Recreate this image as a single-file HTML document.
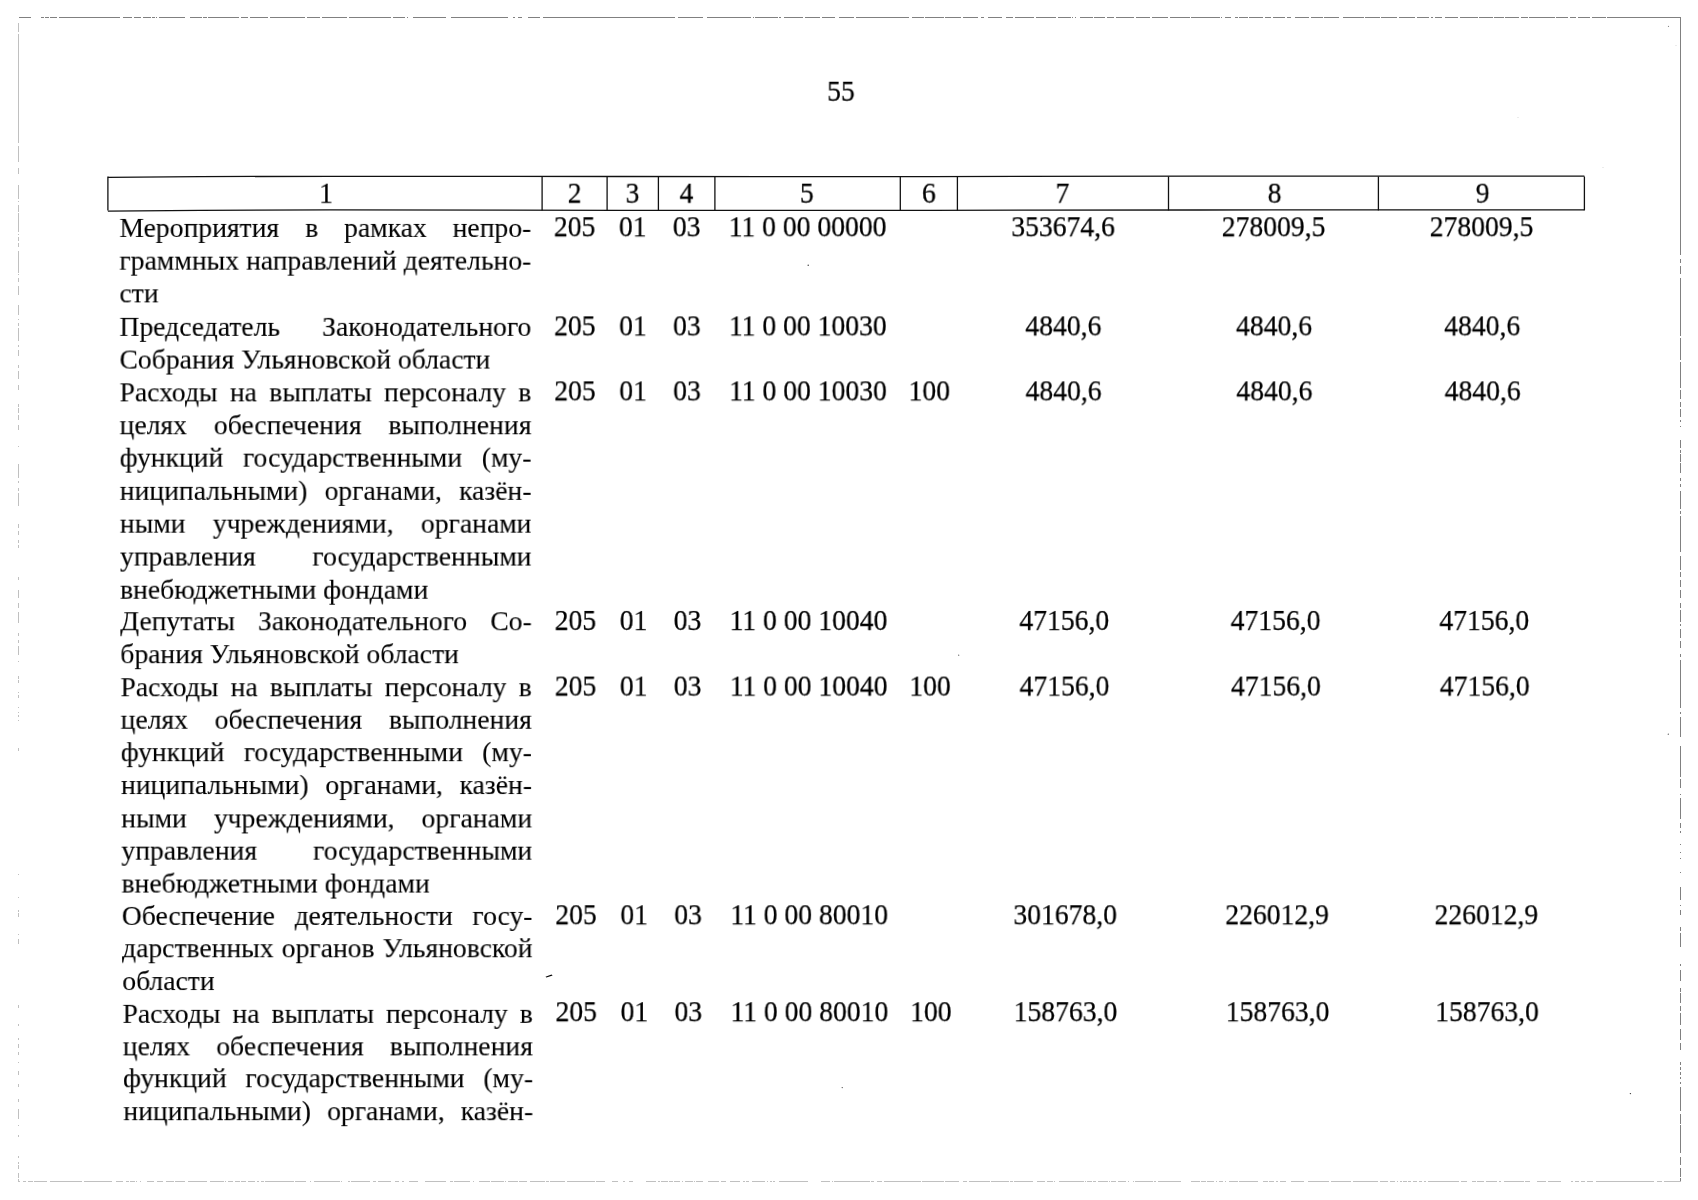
<!DOCTYPE html>
<html lang="ru"><head><meta charset="utf-8"><title>55</title>
<style>
html,body{margin:0;padding:0;background:#fff;}
body{width:1698px;height:1200px;position:relative;overflow:hidden;font-family:"Liberation Serif",serif;color:#000;-webkit-text-stroke:0.25px #000;}
.t,.c{position:absolute;white-space:nowrap;line-height:32px;height:32px;will-change:transform;}
.t{font-size:28.30px;transform-origin:0 0;-webkit-text-stroke:0.1px #000;}
.j{text-align:justify;text-align-last:justify;}
.c{font-size:29.00px;width:400px;text-align:center;transform-origin:50% 0;}
svg{position:absolute;left:0;top:0;}
</style></head><body>

<svg width="1698" height="1200" viewBox="0 0 1698 1200">
<g fill="none" stroke-width="1" shape-rendering="crispEdges">
<path stroke="#808080" d="M18.8 17.5H31.1M40.7 17.5H43.9M45.1 17.5H48.9M49.9 17.5H57.0M59.2 17.5H120.4M122.9 17.5H131.7M133.6 17.5H141.1M143.0 17.5H151.1M151.8 17.5H155.0M156.2 17.5H157.4M158.7 17.5H185.0M190.0 17.5H202.0M203.2 17.5H207.0M208.2 17.5H238.8M241.0 17.5H248.0M250.0 17.5H267.5M270.0 17.5H305.0M307.0 17.5H320.0M322.0 17.5H347.0M349.0 17.5H391.0M393.0 17.5H405.0M406.5 17.5H408.0M413.0 17.5H446.0M451.0 17.5H507.5M512.5 17.5H515.0M517.5 17.5H522.0M527.5 17.5H540.0M542.5 17.5H675.0M677.5 17.5H702.5M707.0 17.5H751.0M753.0 17.5H754.0M755.0 17.5H777.5M779.0 17.5H781.0M784.0 17.5H802.5M804.5 17.5H820.0M822.0 17.5H835.0M839.0 17.5H854.0M856.0 17.5H909.0M912.0 17.5H924.0M925.0 17.5H944.0M945.0 17.5H961.0M962.5 17.5H977.5M981.0 17.5H984.0M987.5 17.5H1002.0M1006.0 17.5H1012.5M1015.0 17.5H1034.0M1036.0 17.5H1056.0M1057.5 17.5H1071.0M1072.0 17.5H1073.0M1074.5 17.5H1076.0M1080.0 17.5H1092.5M1094.0 17.5H1105.0M1107.0 17.5H1114.0M1116.0 17.5H1134.0M1135.5 17.5H1150.0M1152.0 17.5H1168.0M1169.5 17.5H1190.0M1191.0 17.5H1220.0M1220.5 17.5H1221.5M1225.0 17.5H1231.0M1235.0 17.5H1237.5M1239.0 17.5H1247.5M1249.0 17.5H1262.5M1265.0 17.5H1271.0M1273.0 17.5H1285.0M1287.0 17.5H1291.0M1295.0 17.5H1309.0M1311.0 17.5H1322.5M1324.0 17.5H1339.0M1342.5 17.5H1364.0M1365.0 17.5H1379.5M1381.0 17.5H1397.0M1399.0 17.5H1415.0M1417.0 17.5H1429.0M1430.5 17.5H1432.5M1434.5 17.5H1442.0M1445.0 17.5H1457.5M1459.5 17.5H1477.5M1479.0 17.5H1492.5M1494.4 17.5H1503.8M1504.8 17.5H1505.8M1506.3 17.5H1518.9M1521.0 17.5H1528.3M1529.0 17.5H1554.6M1556.3 17.5H1568.4M1570.3 17.5H1576.0M1577.8 17.5H1589.8M1592.3 17.5H1606.0M1607.3 17.5H1680.5"/>
<path stroke="#808080" d="M1680.5 17.4V255.0M1680.5 258.5V263.0M1680.5 265.6V274.0M1680.5 277.5V335.7M1680.5 338.0V360.0M1680.5 362.0V388.0M1680.5 390.0V399.0M1680.5 401.8V407.0M1680.5 409.0V417.0M1680.5 419.5V422.0M1680.5 426.0V427.0M1680.5 440.0V447.5M1680.5 450.0V452.6M1680.5 454.0V461.5M1680.5 463.0V473.0M1680.5 478.0V480.6M1680.5 484.0V487.0M1680.5 490.7V508.5M1680.5 511.0V513.6M1680.5 516.0V552.0M1680.5 555.5V569.5M1680.5 572.0V577.0M1680.5 579.7V587.3M1680.5 590.0V597.5M1680.5 602.6V607.7M1680.5 610.0V621.7M1680.5 624.0V625.5M1680.5 629.0V638.0M1680.5 641.0V648.4M1680.5 653.5V657.3M1680.5 660.0V708.0M1680.5 712.0V713.5M1680.5 717.0V737.0M1680.5 746.0V777.0M1680.5 779.0V788.0M1680.5 794.0V795.0M1680.5 798.0V818.7M1680.5 822.5V827.6M1680.5 831.0V832.5M1680.5 844.0V845.0M1680.5 851.5V852.5M1680.5 858.0V859.0M1680.5 871.5V872.5M1680.5 887.0V900.0M1680.5 905.0V906.0M1680.5 910.0V914.7M1680.5 927.0V930.6M1680.5 933.0V946.6M1680.5 964.0V966.3M1680.5 970.0V981.0M1680.5 988.4V992.0M1680.5 993.3V1003.0M1680.5 1005.6V1010.5M1680.5 1013.0V1025.3M1680.5 1029.0V1040.0M1680.5 1042.5V1050.0M1680.5 1062.0V1064.6M1680.5 1067.0V1069.5M1680.5 1072.0V1074.5M1680.5 1077.0V1079.0M1680.5 1082.0V1084.3M1680.5 1086.7V1111.3M1680.5 1113.8V1123.6M1680.5 1125.0V1153.0M1680.5 1157.0V1165.4M1680.5 1168.0V1176.5M1680.5 1177.7V1181.4"/>
<path stroke="#c0c0c0" d="M18.0 1181.5H20.0M22.5 1181.5H26.0M27.5 1181.5H32.5M34.0 1181.5H47.0M50.0 1181.5H82.0M84.0 1181.5H112.0M116.0 1181.5H123.0M126.0 1181.5H129.0M130.0 1181.5H135.0M136.0 1181.5H137.0M140.0 1181.5H141.0M147.0 1181.5H154.0M157.0 1181.5H162.5M166.0 1181.5H174.0M175.0 1181.5H185.0M188.0 1181.5H207.0M210.0 1181.5H224.0M225.0 1181.5H226.0M227.5 1181.5H232.5M234.5 1181.5H240.0M241.0 1181.5H246.0M247.5 1181.5H255.0M257.0 1181.5H258.5M261.0 1181.5H264.0M265.0 1181.5H272.5M273.0 1181.5H294.0M295.0 1181.5H306.0M309.5 1181.5H310.5M314.0 1181.5H340.0M341.0 1181.5H342.0M347.5 1181.5H350.0M351.0 1181.5H370.0M373.0 1181.5H376.0M377.5 1181.5H391.0M394.5 1181.5H399.0M402.0 1181.5H404.0M409.0 1181.5H418.0M424.5 1181.5H446.0M450.0 1181.5H452.5M454.0 1181.5H470.0M472.5 1181.5H473.5M479.0 1181.5H490.0M491.0 1181.5H504.0M505.0 1181.5H506.0M507.5 1181.5H517.5M519.0 1181.5H527.0M530.0 1181.5H545.0M546.0 1181.5H549.0M550.0 1181.5H565.0M567.0 1181.5H595.0M596.0 1181.5H605.0M612.0 1181.5H617.5M622.5 1181.5H624.5M629.0 1181.5H633.0M646.0 1181.5H656.0M657.5 1181.5H660.0M661.0 1181.5H667.5M669.0 1181.5H672.5M674.0 1181.5H680.0M682.0 1181.5H683.0M685.0 1181.5H692.5M693.5 1181.5H694.5M696.0 1181.5H702.5M707.5 1181.5H719.0M721.0 1181.5H726.0M729.5 1181.5H739.5M742.5 1181.5H745.0M746.0 1181.5H749.0M752.0 1181.5H765.0M767.0 1181.5H768.0M770.0 1181.5H771.5M773.0 1181.5H774.5M779.0 1181.5H808.0M821.0 1181.5H830.0M832.0 1181.5H833.0M834.0 1181.5H869.5M871.0 1181.5H874.0M877.0 1181.5H882.0M884.0 1181.5H920.5M922.0 1181.5H944.0M945.0 1181.5H959.0M963.0 1181.5H967.0M969.0 1181.5H989.5M991.0 1181.5H1009.0M1010.0 1181.5H1012.5M1014.0 1181.5H1032.5M1037.0 1181.5H1045.0M1047.0 1181.5H1052.5M1053.5 1181.5H1055.0M1059.0 1181.5H1084.0M1085.0 1181.5H1086.0M1087.0 1181.5H1092.0M1093.0 1181.5H1096.0M1097.5 1181.5H1107.5M1109.0 1181.5H1110.0M1111.0 1181.5H1116.0M1117.5 1181.5H1126.0M1128.0 1181.5H1129.0M1133.0 1181.5H1134.0M1135.0 1181.5H1152.5M1154.0 1181.5H1156.0M1157.5 1181.5H1181.0M1191.0 1181.5H1199.5M1201.0 1181.5H1206.0M1207.0 1181.5H1214.0M1215.5 1181.5H1216.5M1219.0 1181.5H1222.5M1224.5 1181.5H1225.5M1229.0 1181.5H1237.5M1239.0 1181.5H1258.0M1262.5 1181.5H1267.5M1269.0 1181.5H1274.0M1276.0 1181.5H1278.0M1280.0 1181.5H1286.0M1290.5 1181.5H1304.4M1308.0 1181.5H1329.3M1331.0 1181.5H1351.0M1352.7 1181.5H1378.4M1380.0 1181.5H1388.4M1389.6 1181.5H1394.6M1396.5 1181.5H1397.5M1399.6 1181.5H1401.6M1403.3 1181.5H1406.5M1407.5 1181.5H1410.8M1413.3 1181.5H1417.0M1419.0 1181.5H1422.0M1424.0 1181.5H1425.7M1427.5 1181.5H1459.4M1461.3 1181.5H1466.8M1471.8 1181.5H1475.5M1477.3 1181.5H1484.3M1486.3 1181.5H1496.7M1498.7 1181.5H1501.2M1504.2 1181.5H1523.6M1525.4 1181.5H1530.4M1537.0 1181.5H1546.0M1547.8 1181.5H1561.0M1571.0 1181.5H1572.7M1575.2 1181.5H1579.4M1581.4 1181.5H1585.2M1587.0 1181.5H1592.6M1596.4 1181.5H1653.7M1656.7 1181.5H1662.4M1664.0 1181.5H1680.6"/>
<path stroke="#c0c0c0" d="M18.5 23.3V31.6M18.5 34.0V143.0M18.5 145.6V162.3M18.5 168.0V173.7M18.5 185.0V199.0M18.5 200.5V201.5M18.5 205.0V211.7M18.5 213.3V232.3M18.5 233.5V234.5M18.5 237.0V240.6M18.5 242.5V246.6M18.5 251.3V272.7M18.5 273.5V274.5M18.5 277.5V281.5M18.5 285.8V295.3M18.5 305.0V315.0M18.5 318.5V319.5M18.5 323.0V325.5M18.5 328.0V341.0M18.5 344.6V347.0M18.5 349.6V356.0M18.5 365.0V367.5M18.5 371.0V379.0M18.5 385.0V390.0M18.5 404.0V407.0M18.5 408.0V413.0M18.5 414.5V419.5M18.5 424.6V429.7M18.5 445.5V446.5M18.5 464.0V478.0M18.5 480.6V483.0M18.5 488.0V491.0M18.5 493.0V506.0M18.5 524.0V527.6M18.5 531.4V535.0M18.5 540.0V543.0M18.5 545.0V548.0M18.5 577.0V580.0M18.5 590.0V597.5M18.5 602.6V607.7M18.5 611.5V623.0M18.5 633.0V635.7M18.5 639.5V643.3M18.5 645.8V654.7M18.5 660.5V661.5M18.5 676.0V679.0M18.5 680.0V683.0M18.5 691.5V692.5M18.5 695.4V698.0M18.5 706.5V707.5M18.5 712.0V713.0M18.5 714.5V717.0M18.5 719.5V721.0M18.5 747.5V751.3M18.5 874.0V875.0M18.5 897.0V898.0M18.5 909.7V912.0M18.5 913.4V917.0M18.5 933.5V934.5M18.5 939.0V944.0M18.5 1005.0V1007.5M18.5 1024.0V1026.0M18.5 1037.5V1040.0M18.5 1044.0V1047.5M18.5 1052.0V1055.0M18.5 1061.5V1062.5M18.5 1071.0V1074.5M18.5 1084.0V1087.0M18.5 1099.0V1101.5M18.5 1109.0V1119.0M18.5 1124.5V1125.5M18.5 1135.0V1137.0M18.5 1155.6V1158.0M18.5 1161.7V1164.0M18.5 1165.4V1169.0M18.5 1172.8V1177.7M18.5 1179.0V1181.4"/>
</g>
<g stroke="#111" stroke-width="1.3" fill="none">
<path d="M107.9 177.4L200 176.6L330 176.3L620 176.5L930 176.6L1200 176.2L1584.4 176.1"/>
<path d="M107.9 211.1L200 210.3L330 209.9L620 210.3L930 210.3L1200 210.0L1584.4 209.8"/>
<path d="M107.9 176.5V210.4"/>
<path d="M542.1 176.5V210.4"/>
<path d="M607.1 176.5V210.4"/>
<path d="M658.4 176.5V210.4"/>
<path d="M714.9 176.5V210.4"/>
<path d="M900.3 176.5V210.4"/>
<path d="M957.4 176.5V210.4"/>
<path d="M1168.5 176.5V210.4"/>
<path d="M1378.4 176.5V210.4"/>
<path d="M1584.4 176.5V210.4"/>
</g>
<g fill="#000">
<path d="M545.5 976.8L551.5 974.6L552.6 975.6L546.4 977.6Z"/>
<circle cx="808.2" cy="265.3" r="0.7" fill="#333"/>
<circle cx="958.7" cy="655.2" r="0.6" fill="#555"/>
<circle cx="1668.3" cy="734.2" r="0.6" fill="#444"/>
<circle cx="842.2" cy="1087.6" r="0.6" fill="#333"/>
<circle cx="1630.4" cy="1093.6" r="0.7" fill="#333"/>
<circle cx="1668.5" cy="26.4" r="0.6" fill="#888"/>
<circle cx="1676.0" cy="45.5" r="0.4" fill="#aaa"/>
<circle cx="1518.0" cy="117.5" r="0.4" fill="#aaa"/>
<circle cx="1603.0" cy="167.5" r="0.4" fill="#aaa"/>
</g></svg>
<div class="c" style="left:640px;top:74px;transform:translate(0.90px,0.73px) scaleX(0.9530)">55</div>
<div class="c" style="left:126px;top:176px;transform:translate(0.00px,0.63px) scaleX(0.9530)">1</div>
<div class="c" style="left:374px;top:176px;transform:translate(0.60px,0.63px) scaleX(0.9530)">2</div>
<div class="c" style="left:432px;top:176px;transform:translate(0.45px,0.63px) scaleX(0.9530)">3</div>
<div class="c" style="left:486px;top:176px;transform:translate(0.45px,0.63px) scaleX(0.9530)">4</div>
<div class="c" style="left:606px;top:176px;transform:translate(0.80px,0.63px) scaleX(0.9530)">5</div>
<div class="c" style="left:728px;top:176px;transform:translate(0.85px,0.63px) scaleX(0.9530)">6</div>
<div class="c" style="left:862px;top:176px;transform:translate(0.45px,0.63px) scaleX(0.9530)">7</div>
<div class="c" style="left:1074px;top:176px;transform:translate(0.55px,0.63px) scaleX(0.9530)">8</div>
<div class="c" style="left:1282px;top:176px;transform:translate(0.60px,0.63px) scaleX(0.9530)">9</div>
<div class="t j" style="left:119px;top:211px;transform:translate(0.40px,0.93px) scaleX(0.9766);width:421.77px">Мероприятия в рамках непро-</div>
<div class="t j" style="left:119px;top:244px;transform:translate(0.41px,0.63px) scaleX(0.9766);width:421.77px">граммных направлений деятельно-</div>
<div class="t" style="left:119px;top:277px;transform:translate(0.42px,0.33px) scaleX(0.9766);width:421.76px">сти</div>
<div class="c" style="left:374px;top:210px;transform:translate(0.60px,0.23px) scaleX(0.9530)">205</div>
<div class="c" style="left:432px;top:210px;transform:translate(0.75px,0.23px) scaleX(0.9530)">01</div>
<div class="c" style="left:486px;top:210px;transform:translate(0.65px,0.23px) scaleX(0.9530)">03</div>
<div class="c" style="left:607px;top:210px;transform:translate(0.60px,0.23px) scaleX(0.9530)">11 0 00 00000</div>
<div class="c" style="left:862px;top:210px;transform:translate(0.95px,0.23px) scaleX(0.9530)">353674,6</div>
<div class="c" style="left:1073px;top:210px;transform:translate(0.45px,0.23px) scaleX(0.9530)">278009,5</div>
<div class="c" style="left:1281px;top:210px;transform:translate(0.40px,0.23px) scaleX(0.9530)">278009,5</div>
<div class="t j" style="left:119px;top:310px;transform:translate(0.45px,0.83px) scaleX(0.9766);width:421.74px">Председатель Законодательного</div>
<div class="t" style="left:119px;top:343px;transform:translate(0.49px,0.53px) scaleX(0.9766);width:421.72px">Собрания Ульяновской области</div>
<div class="c" style="left:374px;top:309px;transform:translate(0.80px,0.33px) scaleX(0.9530)">205</div>
<div class="c" style="left:432px;top:309px;transform:translate(0.95px,0.33px) scaleX(0.9530)">01</div>
<div class="c" style="left:486px;top:309px;transform:translate(0.85px,0.33px) scaleX(0.9530)">03</div>
<div class="c" style="left:607px;top:309px;transform:translate(0.83px,0.33px) scaleX(0.9530)">11 0 00 10030</div>
<div class="c" style="left:863px;top:309px;transform:translate(0.25px,0.33px) scaleX(0.9530)">4840,6</div>
<div class="c" style="left:1073px;top:309px;transform:translate(0.95px,0.33px) scaleX(0.9530)">4840,6</div>
<div class="c" style="left:1282px;top:309px;transform:translate(0.09px,0.33px) scaleX(0.9530)">4840,6</div>
<div class="t j" style="left:119px;top:376px;transform:translate(0.54px,0.33px) scaleX(0.9766);width:421.70px">Расходы на выплаты персоналу в</div>
<div class="t j" style="left:119px;top:409px;transform:translate(0.60px,0.23px) scaleX(0.9766);width:421.66px">целях обеспечения выполнения</div>
<div class="t j" style="left:119px;top:441px;transform:translate(0.67px,0.63px) scaleX(0.9766);width:421.63px">функций государственными (му-</div>
<div class="t j" style="left:119px;top:474px;transform:translate(0.75px,0.83px) scaleX(0.9766);width:421.58px">ниципальными) органами, казён-</div>
<div class="t j" style="left:119px;top:507px;transform:translate(0.84px,0.63px) scaleX(0.9766);width:421.53px">ными учреждениями, органами</div>
<div class="t j" style="left:119px;top:540px;transform:translate(0.94px,0.53px) scaleX(0.9766);width:421.48px">управления государственными</div>
<div class="t" style="left:120px;top:573px;transform:translate(0.06px,0.73px) scaleX(0.9766);width:421.42px">внебюджетными фондами</div>
<div class="c" style="left:374px;top:374px;transform:translate(0.93px,0.33px) scaleX(0.9530)">205</div>
<div class="c" style="left:433px;top:374px;transform:translate(0.08px,0.33px) scaleX(0.9530)">01</div>
<div class="c" style="left:486px;top:374px;transform:translate(0.98px,0.33px) scaleX(0.9530)">03</div>
<div class="c" style="left:607px;top:374px;transform:translate(0.98px,0.33px) scaleX(0.9530)">11 0 00 10030</div>
<div class="c" style="left:729px;top:374px;transform:translate(0.27px,0.33px) scaleX(0.9530)">100</div>
<div class="c" style="left:863px;top:374px;transform:translate(0.45px,0.33px) scaleX(0.9530)">4840,6</div>
<div class="c" style="left:1074px;top:374px;transform:translate(0.28px,0.33px) scaleX(0.9530)">4840,6</div>
<div class="c" style="left:1282px;top:374px;transform:translate(0.55px,0.33px) scaleX(0.9530)">4840,6</div>
<div class="t j" style="left:120px;top:605px;transform:translate(0.18px,0.23px) scaleX(0.9766);width:421.35px">Депутаты Законодательного Со-</div>
<div class="t" style="left:120px;top:638px;transform:translate(0.31px,0.13px) scaleX(0.9766);width:421.28px">брания Ульяновской области</div>
<div class="c" style="left:375px;top:603px;transform:translate(0.40px,0.93px) scaleX(0.9530)">205</div>
<div class="c" style="left:433px;top:603px;transform:translate(0.55px,0.93px) scaleX(0.9530)">01</div>
<div class="c" style="left:487px;top:603px;transform:translate(0.45px,0.93px) scaleX(0.9530)">03</div>
<div class="c" style="left:608px;top:603px;transform:translate(0.50px,0.93px) scaleX(0.9530)">11 0 00 10040</div>
<div class="c" style="left:864px;top:603px;transform:translate(0.15px,0.93px) scaleX(0.9530)">47156,0</div>
<div class="c" style="left:1075px;top:603px;transform:translate(0.45px,0.93px) scaleX(0.9530)">47156,0</div>
<div class="c" style="left:1284px;top:603px;transform:translate(0.15px,0.93px) scaleX(0.9530)">47156,0</div>
<div class="t j" style="left:120px;top:671px;transform:translate(0.46px,0.23px) scaleX(0.9766);width:421.20px">Расходы на выплаты персоналу в</div>
<div class="t j" style="left:120px;top:703px;transform:translate(0.62px,0.73px) scaleX(0.9766);width:421.12px">целях обеспечения выполнения</div>
<div class="t j" style="left:120px;top:736px;transform:translate(0.78px,0.13px) scaleX(0.9766);width:421.03px">функций государственными (му-</div>
<div class="t j" style="left:120px;top:769px;transform:translate(0.96px,0.03px) scaleX(0.9766);width:420.93px">ниципальными) органами, казён-</div>
<div class="t j" style="left:121px;top:802px;transform:translate(0.15px,0.43px) scaleX(0.9766);width:420.83px">ными учреждениями, органами</div>
<div class="t j" style="left:121px;top:834px;transform:translate(0.35px,0.63px) scaleX(0.9766);width:420.73px">управления государственными</div>
<div class="t" style="left:121px;top:867px;transform:translate(0.56px,0.53px) scaleX(0.9766);width:420.61px">внебюджетными фондами</div>
<div class="c" style="left:375px;top:669px;transform:translate(0.53px,0.53px) scaleX(0.9530)">205</div>
<div class="c" style="left:433px;top:669px;transform:translate(0.68px,0.53px) scaleX(0.9530)">01</div>
<div class="c" style="left:487px;top:669px;transform:translate(0.58px,0.53px) scaleX(0.9530)">03</div>
<div class="c" style="left:608px;top:669px;transform:translate(0.65px,0.53px) scaleX(0.9530)">11 0 00 10040</div>
<div class="c" style="left:730px;top:669px;transform:translate(0.02px,0.53px) scaleX(0.9530)">100</div>
<div class="c" style="left:864px;top:669px;transform:translate(0.35px,0.53px) scaleX(0.9530)">47156,0</div>
<div class="c" style="left:1075px;top:669px;transform:translate(0.79px,0.53px) scaleX(0.9530)">47156,0</div>
<div class="c" style="left:1284px;top:669px;transform:translate(0.61px,0.53px) scaleX(0.9530)">47156,0</div>
<div class="t j" style="left:121px;top:899px;transform:translate(0.78px,0.93px) scaleX(0.9766);width:420.50px">Обеспечение деятельности госу-</div>
<div class="t j" style="left:122px;top:932px;transform:translate(0.01px,0.23px) scaleX(0.9766);width:420.38px">дарственных органов Ульяновской</div>
<div class="t" style="left:122px;top:965px;transform:translate(0.25px,0.03px) scaleX(0.9766);width:420.25px">области</div>
<div class="c" style="left:376px;top:898px;transform:translate(0.00px,0.23px) scaleX(0.9530)">205</div>
<div class="c" style="left:434px;top:898px;transform:translate(0.15px,0.23px) scaleX(0.9530)">01</div>
<div class="c" style="left:488px;top:898px;transform:translate(0.05px,0.23px) scaleX(0.9530)">03</div>
<div class="c" style="left:609px;top:898px;transform:translate(0.18px,0.23px) scaleX(0.9530)">11 0 00 80010</div>
<div class="c" style="left:865px;top:898px;transform:translate(0.05px,0.23px) scaleX(0.9530)">301678,0</div>
<div class="c" style="left:1076px;top:898px;transform:translate(0.95px,0.23px) scaleX(0.9530)">226012,9</div>
<div class="c" style="left:1286px;top:898px;transform:translate(0.21px,0.23px) scaleX(0.9530)">226012,9</div>
<div class="t j" style="left:122px;top:997px;transform:translate(0.51px,0.83px) scaleX(0.9766);width:420.11px">Расходы на выплаты персоналу в</div>
<div class="t j" style="left:122px;top:1030px;transform:translate(0.77px,0.33px) scaleX(0.9766);width:419.97px">целях обеспечения выполнения</div>
<div class="t j" style="left:123px;top:1062px;transform:translate(0.03px,0.23px) scaleX(0.9766);width:419.83px">функций государственными (му-</div>
<div class="t j" style="left:123px;top:1095px;transform:translate(0.32px,0.13px) scaleX(0.9766);width:419.67px">ниципальными) органами, казён-</div>
<div class="c" style="left:376px;top:995px;transform:translate(0.20px,0.13px) scaleX(0.9530)">205</div>
<div class="c" style="left:434px;top:995px;transform:translate(0.35px,0.13px) scaleX(0.9530)">01</div>
<div class="c" style="left:488px;top:995px;transform:translate(0.25px,0.13px) scaleX(0.9530)">03</div>
<div class="c" style="left:609px;top:995px;transform:translate(0.40px,0.13px) scaleX(0.9530)">11 0 00 80010</div>
<div class="c" style="left:730px;top:995px;transform:translate(0.85px,0.13px) scaleX(0.9530)">100</div>
<div class="c" style="left:865px;top:995px;transform:translate(0.35px,0.13px) scaleX(0.9530)">158763,0</div>
<div class="c" style="left:1077px;top:995px;transform:translate(0.44px,0.13px) scaleX(0.9530)">158763,0</div>
<div class="c" style="left:1286px;top:995px;transform:translate(0.89px,0.13px) scaleX(0.9530)">158763,0</div>
</body></html>
